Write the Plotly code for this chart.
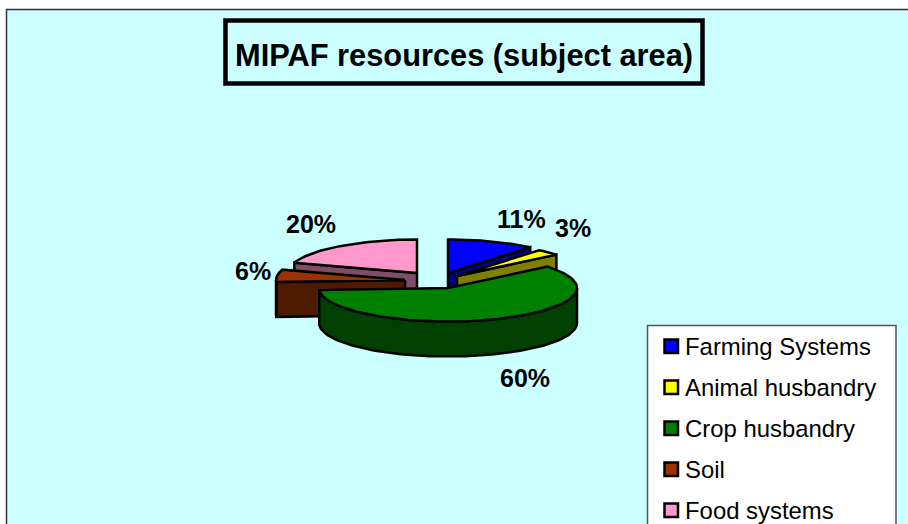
import math
import plotly.graph_objects as go

# ---- data ----
categories = ["Farming Systems", "Animal husbandry", "Crop husbandry", "Soil", "Food systems"]
values = [11, 3, 60, 6, 20]
value_labels = ["11%", "3%", "60%", "6%", "20%"]
title_text = "MIPAF resources (subject area)"

# ---- styling ----
top_colors = ["#0000ff", "#ffff00", "#008000", "#993300", "#ff99cc"]
wall_colors = ["#000080", "#808000", "#004000", "#4d1a00", "#804d66"]
bg_color = "#ccffff"
FONT = "Liberation Sans, Arial, sans-serif"

# ---- layout geometry (pixels) ----
W, H = 908, 524
RX, RY, DEPTH = 129, 33.5, 35
apex = [(448, 273), (457, 276), (448, 288), (405, 280), (417, 273)]   # exploded slice centres
label_pos = [(521, 219), (573, 228), (525, 378), (253, 271), (311, 224)]
draw_order = [4, 0, 1, 3, 2]


def pt(c, deg, dy=0):
    a = math.radians(deg)
    return c[0] + RX * math.sin(a), c[1] - RY * math.cos(a) + dy


def arc(c, a0, a1, dy=0):
    n = max(2, int(abs(a1 - a0) / 2) + 1)
    return [pt(c, a0 + (a1 - a0) * i / (n - 1), dy) for i in range(n)]


def poly(points, color, lw=2.5):
    xs = [p[0] for p in points] + [points[0][0]]
    ys = [p[1] for p in points] + [points[0][1]]
    return go.Scatter(x=xs, y=ys, mode="lines", fill="toself", fillcolor=color,
                      line=dict(color="black", width=lw, shape="linear"),
                      hoverinfo="skip", showlegend=False)


total = sum(values)
starts, ends, acc = [], [], 0
for v in values:
    starts.append(acc / total * 360)
    acc += v
    ends.append(acc / total * 360)

fig = go.Figure()
for i in draw_order:
    c, a0, a1 = apex[i], starts[i], ends[i]
    # cut faces that look toward the viewer
    if math.sin(math.radians(a0)) < -1e-6:
        e = pt(c, a0)
        fig.add_trace(poly([c, e, (e[0], e[1] + DEPTH), (c[0], c[1] + DEPTH)], wall_colors[i]))
    if math.sin(math.radians(a1)) > 1e-6:
        e = pt(c, a1)
        fig.add_trace(poly([c, e, (e[0], e[1] + DEPTH), (c[0], c[1] + DEPTH)], wall_colors[i]))
    # outer rim, front half only
    f0, f1 = max(a0, 90), min(a1, 270)
    if f1 > f0:
        fig.add_trace(poly(arc(c, f0, f1) + arc(c, f1, f0, DEPTH), wall_colors[i]))
    # top face
    fig.add_trace(poly([c] + arc(c, a0, a1), top_colors[i]))

shapes = [
    dict(type="rect", layer="below", x0=6.5, y0=9.5, x1=930, y1=560,
         fillcolor=bg_color, line=dict(color="#333333", width=1.5)),
    dict(type="rect", layer="above", x0=225.5, y0=20.5, x1=702.5, y1=83.5,
         fillcolor="rgba(0,0,0,0)", line=dict(color="black", width=4.5)),
    dict(type="rect", layer="above", x0=647.5, y0=325.5, x1=896, y1=560,
         fillcolor="white", line=dict(color="#555555", width=1.5)),
]
annotations = [dict(x=464, y=55, text=f"<b>{title_text}</b>", showarrow=False,
                    xanchor="center", yanchor="middle",
                    font=dict(family=FONT, size=30.8, color="black"))]
for lab, (x, y) in zip(value_labels, label_pos):
    annotations.append(dict(x=x, y=y, text=f"<b>{lab}</b>", showarrow=False,
                            xanchor="center", yanchor="middle",
                            font=dict(family=FONT, size=25, color="black")))
for i, name in enumerate(categories):
    yc = 346 + 41 * i
    shapes.append(dict(type="rect", layer="above", x0=664.5, x1=678, y0=yc - 6.5, y1=yc + 7,
                       fillcolor=top_colors[i], line=dict(color="black", width=2.5)))
    annotations.append(dict(x=683, y=yc, text=name, showarrow=False,
                            xanchor="left", yanchor="middle",
                            font=dict(family=FONT, size=23.9, color="black")))

fig.update_layout(
    width=W, height=H, autosize=False,
    margin=dict(l=0, r=0, t=0, b=0), paper_bgcolor="white", plot_bgcolor="white",
    xaxis=dict(range=[0, W], visible=False, fixedrange=True),
    yaxis=dict(range=[H, 0], visible=False, fixedrange=True),
    shapes=shapes, annotations=annotations, showlegend=False,
)
fig.write_html("out.html", config=dict(displayModeBar=False),
               post_script="document.body.style.margin='0';document.body.style.overflow='hidden';")
